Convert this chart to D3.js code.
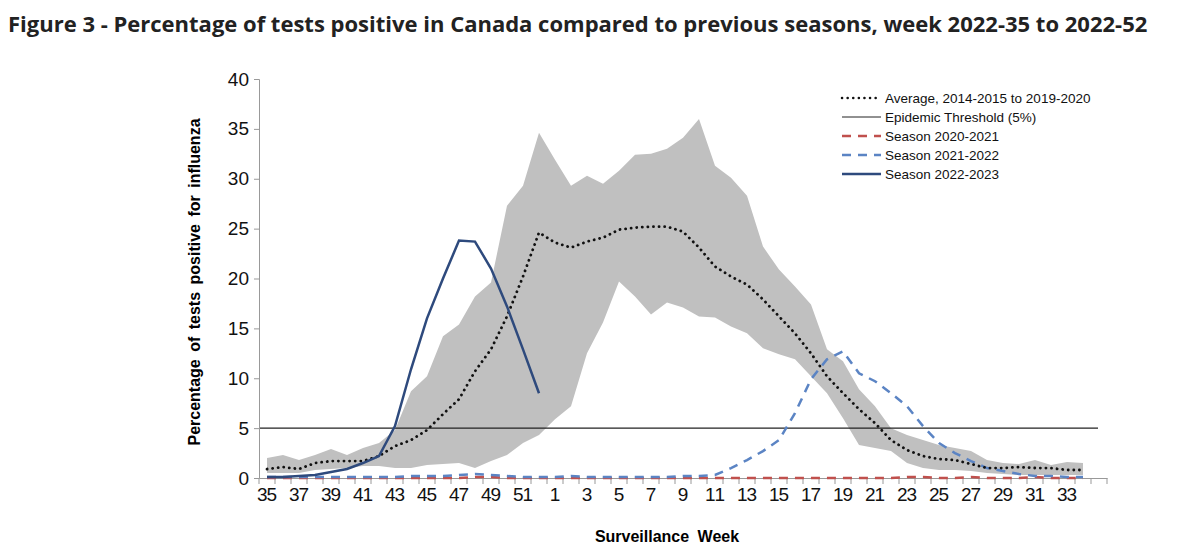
<!DOCTYPE html>
<html>
<head>
<meta charset="utf-8">
<script src="https://d3js.org/d3.v7.min.js"></script>
<style>
  body { margin: 0; background: #fff; }
  h1 { font: bold 22px "Open Sans"; margin: 0; position: absolute; left: 8px; top: 8px; color: #222; white-space: nowrap; }
</style>
</head>
<body>
<h1>Figure 3 - Percentage of tests positive in Canada compared to previous seasons, week 2022-35 to 2022-52</h1>
<div id="chart"></div>
<script>
const weeks = [35,36,37,38,39,40,41,42,43,44,45,46,47,48,49,50,51,52,1,2,3,4,5,6,7,8,9,10,11,12,13,14,15,16,17,18,19,20,21,22,23,24,25,26,27,28,29,30,31,32,33,34,"35b"];
const season2223 = [0.1,0.1,0.2,0.3,0.6,0.9,1.5,2.2,5.2,10.9,16.0,20.0,23.8,23.7,21.0,17.2,12.9,8.5];
const average = [0.9,1.1,0.9,1.5,1.7,1.7,1.7,2.2,3.2,3.8,4.8,6.4,7.9,10.7,12.9,16.2,20.2,24.6,23.6,23.1,23.7,24.1,24.9,25.1,25.2,25.2,24.7,23.1,21.2,20.2,19.4,17.9,16.2,14.5,12.5,10.2,8.5,6.9,5.5,3.8,2.8,2.2,1.9,1.8,1.4,1.0,1.0,1.1,1.0,1.0,0.8,0.8];
const upper = [2.0,2.3,1.8,2.3,2.9,2.3,3.0,3.5,4.8,8.7,10.2,14.2,15.4,18.2,19.6,27.3,29.3,34.6,31.9,29.3,30.3,29.5,30.8,32.4,32.5,33.0,34.1,36.0,31.3,30.1,28.3,23.2,20.9,19.2,17.4,12.9,11.7,8.9,7.2,5.0,4.3,3.8,3.3,3.0,2.7,1.8,1.5,1.4,1.8,1.3,1.6,1.5];
const lower = [0.5,0.5,0.5,0.8,0.9,1.0,1.2,1.2,1.0,1.0,1.3,1.4,1.5,1.0,1.7,2.3,3.5,4.3,5.9,7.2,12.5,15.6,19.7,18.2,16.4,17.6,17.1,16.2,16.1,15.2,14.5,13.0,12.4,11.9,10.2,8.5,6.0,3.3,3.0,2.7,1.5,1.0,0.8,0.8,0.7,0.5,0.4,0.3,0.3,0.3,0.3,0.3];
const season2122 = [0.1,0.1,0.1,0.1,0.1,0.1,0.1,0.1,0.1,0.2,0.2,0.2,0.3,0.4,0.3,0.2,0.1,0.1,0.1,0.2,0.1,0.1,0.1,0.1,0.1,0.1,0.2,0.2,0.3,1.0,1.8,2.7,3.8,6.5,9.9,11.9,12.7,10.5,9.7,8.5,7.2,5.2,3.5,2.5,1.7,1.0,0.7,0.4,0.2,0.2,0.1,0.1];
const season2021 = [0,0,0,0,0,0,0,0,0,0,0,0,0,0.1,0.1,0,0,0,0,0,0,0,0,0,0,0,0,0,0,0,0,0,0,0,0,0,0,0,0,0,0.1,0.1,0,0,0.1,0,0,0,0.1,0,0,0];
const threshold = 5;
const yTicks = [0,5,10,15,20,25,30,35,40];
const legendItems = [
  {label: "Average, 2014-2015 to 2019-2020", color: "#111", dash: "2,4", width: 2.5},
  {label: "Epidemic Threshold (5%)", color: "#222", dash: null, width: 1},
  {label: "Season 2020-2021", color: "#c0504d", dash: "9,7", width: 2.5},
  {label: "Season 2021-2022", color: "#5b84c4", dash: "9,7", width: 2.5},
  {label: "Season 2022-2023", color: "#2e4a7d", dash: null, width: 2.5}
];

const svg = d3.select("#chart").append("svg").attr("width", 1200).attr("height", 559)
  .style("font-family", "Liberation Sans, Arial");

const x = d3.scaleBand().domain(weeks).range([259, 1107]);
const y = d3.scaleLinear().domain([0, 40]).range([478, 79]);
const cx = i => x(weeks[i]) + x.bandwidth() / 2;

// band
svg.append("path").datum(upper.map((u, i) => [i, u, lower[i]]))
  .attr("fill", "#c0c0c0")
  .attr("d", d3.area().x(d => cx(d[0])).y0(d => y(d[2])).y1(d => y(d[1])));

// threshold
svg.append("line").attr("x1", 259).attr("x2", 1098).attr("y1", y(threshold)).attr("y2", y(threshold))
  .attr("stroke", "#222").attr("stroke-width", 1.2);

// axes
const yAxis = svg.append("g").attr("transform", "translate(259,0)")
  .call(d3.axisLeft(y).tickValues(yTicks).tickSize(5).tickPadding(5));
const xAxis = svg.append("g").attr("transform", "translate(0,478)")
  .call(d3.axisBottom(x).tickSize(0).tickPadding(10).tickFormat((d, i) => (i % 2 === 0 && i < 52) ? d : ""));
svg.append("g").selectAll("line").data(weeks.concat(["end"])).join("line")
  .attr("x1", (d, i) => 259 + i * x.bandwidth()).attr("x2", (d, i) => 259 + i * x.bandwidth())
  .attr("y1", 478).attr("y2", 484).attr("stroke", "#999");
[yAxis, xAxis].forEach(g => {
  g.selectAll(".domain").attr("stroke", "#999");
  g.selectAll(".tick line").attr("stroke", "#999");
  g.selectAll("text").attr("font-size", 19).attr("fill", "#111").attr("font-family", "Liberation Sans, Arial");
});
xAxis.selectAll("text").attr("textLength", d => String(d).length > 1 ? 20 : null);

const line = d3.line().x((d, i) => cx(i)).y(d => y(d));
svg.append("path").datum(season2021).attr("fill", "none").attr("stroke", "#c0504d")
  .attr("stroke-width", 2.5).attr("stroke-dasharray", "9,7").attr("d", line);
svg.append("path").datum(season2122).attr("fill", "none").attr("stroke", "#5b84c4")
  .attr("stroke-width", 2.5).attr("stroke-dasharray", "9,7").attr("d", line);
svg.append("path").datum(average).attr("fill", "none").attr("stroke", "#111")
  .attr("stroke-width", 2.8).attr("stroke-dasharray", "0.1,5.5").attr("stroke-linecap", "round").attr("d", line);
svg.append("path").datum(season2223).attr("fill", "none").attr("stroke", "#2e4a7d")
  .attr("stroke-width", 2.5).attr("d", line);

// legend
const lg = svg.append("g").selectAll("g").data(legendItems).join("g")
  .attr("transform", (d, i) => `translate(842,${98 + i * 19})`);
lg.append("line").attr("x1", 0).attr("x2", 39).attr("stroke", d => d.color)
  .attr("stroke-width", d => d.width)
  .attr("stroke-dasharray", (d, i) => i === 0 ? "0.1,5.5" : d.dash)
  .attr("stroke-linecap", (d, i) => i === 0 ? "round" : "butt");
lg.append("text").attr("x", 43).attr("dy", "0.35em").attr("font-size", 13.5).attr("fill", "#111").text(d => d.label);

// axis titles
svg.append("text").attr("x", 667).attr("y", 542).attr("text-anchor", "middle")
  .attr("font-weight", "bold").attr("font-size", 16).attr("word-spacing", 4).text("Surveillance Week");
svg.append("text").attr("transform", "translate(200,282) rotate(-90)").attr("text-anchor", "middle")
  .attr("font-weight", "bold").attr("font-size", 16).attr("word-spacing", 3).text("Percentage of tests positive for influenza");
</script>
</body>
</html>
